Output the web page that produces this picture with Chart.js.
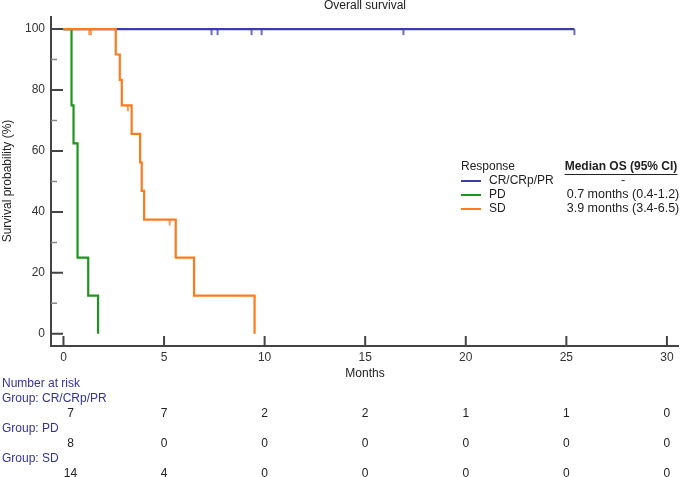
<!DOCTYPE html>
<html>
<head>
<meta charset="utf-8">
<script src="https://cdn.jsdelivr.net/npm/chart.js@4.4.1/dist/chart.umd.min.js"></script>
<style>
  html, body { margin: 0; padding: 0; background: #fff; }
  #wrap { width: 685px; height: 477px; position: relative; }
</style>
</head>
<body>
<div id="wrap"><canvas id="km"></canvas></div>
<script>
// --- data ---
const groups = ['CR/CRp/PR', 'PD', 'SD'];
const medianOS = ['-', '0.7 months (0.4-1.2)', '3.9 months (3.4-6.5)'];

// step curves (time in months, survival %)
const crTime = [0, 25.4];
const crSurv = [100, 100];
const pdTime = [0, 0.40, 0.50, 0.70, 1.23, 1.72];
const pdSurv = [100, 75, 62.5, 25, 12.5, 0];
const sdTime = [0, 2.60, 2.80, 2.90, 3.39, 3.81, 3.89, 4.01, 5.58, 6.49, 9.50];
const sdSurv = [100, 91.67, 83.33, 75, 65.63, 56.25, 46.88, 37.5, 25, 12.5, 0];

// censored observations
const crCensTime = [7.36, 7.66, 9.35, 9.85, 16.9, 25.4];
const crCensSurv = [100, 100, 100, 100, 100, 100];
const sdCensTime = [1.28, 1.36, 3.2, 5.28];
const sdCensSurv = [100, 100, 75, 37.5];

// axis ticks
const xTicks = [0, 5, 10, 15, 20, 25, 30];
const yTicks = [0, 20, 40, 60, 80, 100];
const yMinor = [10, 30, 50, 70, 90];

// number at risk
const riskTimes = [0, 5, 10, 15, 20, 25, 30];
const riskCR = [7, 7, 2, 2, 1, 1, 0];
const riskPD = [8, 0, 0, 0, 0, 0, 0];
const riskSD = [14, 4, 0, 0, 0, 0, 0];

const colors = ['#3c3cac', '#1f951f', '#ff7a1c'];
const FONT = '"Liberation Sans", Arial, sans-serif';

function pts(t, s) { return t.map((v, i) => ({ x: v, y: s[i] })); }

// small vertical tick hanging below the curve
function censorMark(color) {
    const c = document.createElement('canvas');
    c.width = 4; c.height = 14;
    const g = c.getContext('2d');
    g.strokeStyle = color;
    g.lineWidth = 1.5;
    g.beginPath(); g.moveTo(2, 7); g.lineTo(2, 13); g.stroke();
    return c;
}

const overlay = {
    id: 'overlay',
    afterDraw(chart) {
        const { ctx, chartArea: a, scales: { x, y } } = chart;
        ctx.save();
        // axis lines
        ctx.strokeStyle = '#444';
        ctx.lineWidth = 2;
        ctx.beginPath();
        ctx.moveTo(a.left, a.top); ctx.lineTo(a.left, a.bottom); ctx.lineTo(a.right, a.bottom);
        ctx.stroke();
        // ticks pointing inwards
        ctx.beginPath();
        yTicks.forEach(v => { const p = y.getPixelForValue(v); ctx.moveTo(a.left, p); ctx.lineTo(a.left + 12, p); });
        xTicks.forEach(v => { const p = x.getPixelForValue(v); ctx.moveTo(p, a.bottom); ctx.lineTo(p, a.bottom - 10); });
        ctx.stroke();
        ctx.strokeStyle = '#888';
        ctx.lineWidth = 1.5;
        ctx.beginPath();
        yMinor.forEach(v => { const p = y.getPixelForValue(v); ctx.moveTo(a.left, p); ctx.lineTo(a.left + 6, p); });
        ctx.stroke();

        // titles
        ctx.fillStyle = '#222';
        ctx.font = '12px ' + FONT;
        ctx.textAlign = 'center';
        ctx.textBaseline = 'middle';
        const cx = (a.left + a.right) / 2;
        ctx.fillText('Overall survival', cx, 6);
        ctx.fillText('Months', cx, 374);
        ctx.save();
        ctx.translate(8, (a.top + a.bottom) / 2);
        ctx.rotate(-Math.PI / 2);
        ctx.fillText('Survival probability (%)', 0, 0);
        ctx.restore();

        // legend
        ctx.textAlign = 'left';
        ctx.fillText('Response', 461, 167);
        const legY = [181, 195, 209];
        groups.forEach((g, i) => {
            ctx.strokeStyle = colors[i];
            ctx.lineWidth = 2;
            ctx.beginPath(); ctx.moveTo(461, legY[i]); ctx.lineTo(481, legY[i]); ctx.stroke();
            ctx.fillStyle = '#222';
            ctx.font = '12px ' + FONT;
            ctx.textAlign = 'left';
            ctx.fillText(g, 489, legY[i]);
            ctx.font = '12.5px ' + FONT;
            ctx.textAlign = 'center';
            ctx.fillText(medianOS[i], 623, legY[i]);
        });
        ctx.font = 'bold 12px ' + FONT;
        ctx.textAlign = 'center';
        const head = 'Median OS (95% CI)';
        ctx.fillText(head, 621, 167);
        const hw = ctx.measureText(head).width;
        ctx.strokeStyle = '#222';
        ctx.lineWidth = 1;
        ctx.beginPath(); ctx.moveTo(621 - hw / 2, 174.5); ctx.lineTo(621 + hw / 2, 174.5); ctx.stroke();

        // number at risk table
        ctx.font = '12px ' + FONT;
        ctx.textAlign = 'left';
        ctx.fillStyle = '#33339a';
        ctx.fillText('Number at risk', 2, 384);
        const rows = [riskCR, riskPD, riskSD];
        rows.forEach((r, k) => {
            const gy = 399 + k * 30;
            ctx.fillStyle = '#33339a';
            ctx.textAlign = 'left';
            ctx.fillText('Group: ' + groups[k], 2, gy);
            ctx.fillStyle = '#222';
            ctx.textAlign = 'center';
            r.forEach((n, i) => {
                let px = x.getPixelForValue(riskTimes[i]);
                if (i === 0) px += 7;
                ctx.fillText(String(n), px, gy + 15);
            });
        });
        ctx.restore();
    }
};

new Chart(document.getElementById('km'), {
    type: 'scatter',
    data: {
        datasets: [
            { label: groups[0], data: pts(crTime, crSurv), showLine: true, stepped: true, borderColor: colors[0], borderWidth: 2.2, pointRadius: 0, order: 3 },
            { label: groups[1], data: pts(pdTime, pdSurv), showLine: true, stepped: true, borderColor: colors[1], borderWidth: 2.2, pointRadius: 0, order: 2 },
            { label: groups[2], data: pts(sdTime, sdSurv), showLine: true, stepped: true, borderColor: colors[2], borderWidth: 2.2, pointRadius: 0, order: 1 },
            { label: 'cr censored', data: pts(crCensTime, crCensSurv), showLine: false, pointStyle: censorMark(colors[0]), pointRadius: 5, order: 3 },
            { label: 'sd censored', data: pts(sdCensTime, sdCensSurv), showLine: false, pointStyle: censorMark(colors[2]), pointRadius: 5, order: 1 }
        ]
    },
    options: {
        responsive: true,
        maintainAspectRatio: false,
        devicePixelRatio: 1,
        animation: false,
        layout: { padding: { top: 16, right: 5, left: 0, bottom: 101 } },
        plugins: { legend: { display: false }, tooltip: { enabled: false } },
        scales: {
            x: {
                type: 'linear',
                min: -0.62, max: 30.6,
                grid: { display: false, drawTicks: false },
                border: { display: false },
                afterBuildTicks: ax => { ax.ticks = xTicks.map(v => ({ value: v })); },
                afterFit: ax => { ax.height = 30; },
                ticks: { padding: 4, color: '#333', font: { family: FONT, size: 12 }, maxRotation: 0 }
            },
            y: {
                type: 'linear',
                min: -4, max: 104.3,
                grid: { display: false, drawTicks: false },
                border: { display: false },
                afterBuildTicks: ax => { ax.ticks = yTicks.map(v => ({ value: v })); },
                afterFit: ax => { ax.width = 51; },
                ticks: { padding: 6, color: '#333', font: { family: FONT, size: 12 } }
            }
        }
    },
    plugins: [overlay]
});
</script>
</body>
</html>
